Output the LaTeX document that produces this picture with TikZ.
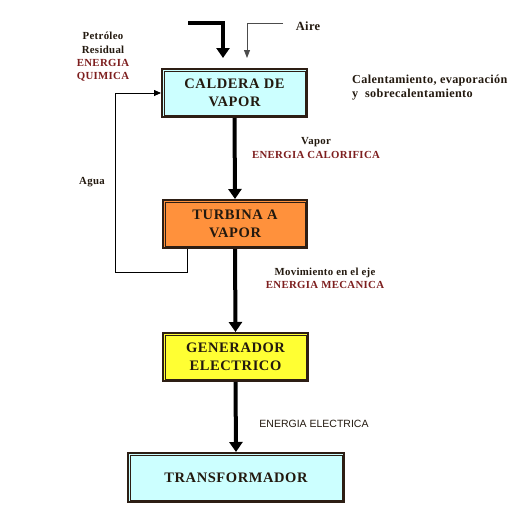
\documentclass[tikz,border=0pt]{standalone}
\usepackage{fontspec}
\setmainfont{Liberation Serif}
\setsansfont{Liberation Sans}
\newfontfamily\lsfont[LetterSpace=3]{Liberation Serif}
\newfontfamily\bxfont[LetterSpace=4]{Liberation Serif}
\usetikzlibrary{arrows.meta}
\definecolor{boxline}{RGB}{45,30,20}
\definecolor{boxtext}{RGB}{35,25,15}
\definecolor{cyanfill}{RGB}{204,255,255}
\definecolor{orangefill}{RGB}{255,145,60}
\definecolor{yellowfill}{RGB}{255,255,51}
\definecolor{energyred}{RGB}{125,30,30}
\tikzset{
  box/.style={draw=boxline, line width=2pt, inner sep=0pt, align=center,
    font=\bxfont\bfseries\fontsize{14.5}{18}\selectfont, text=boxtext},
  lbl/.style={inner sep=0pt, align=center, font=\lsfont\bfseries\fontsize{10.8}{13.3}\selectfont, text=boxtext},
  thickarrow/.style={line width=4pt, -{Triangle[width=13pt,length=10pt]}},
  thinarrow/.style={line width=0.8pt, -{Triangle[width=6pt,length=8pt]}},
  fbline/.style={line width=0.8pt, -{Triangle[width=6pt,length=7pt]}}
}
\begin{document}
\begin{tikzpicture}[x=1pt,y=-1pt]
\useasboundingbox (0,0) rectangle (527,517);
% boxes
\node[box, fill=cyanfill, minimum width=145pt, minimum height=48pt] (cal) at (234.5,93) {CALDERA DE\\VAPOR};
\node[box, fill=orangefill, minimum width=144pt, minimum height=48pt] (tur) at (235,224) {TURBINA A\\VAPOR};
\node[box, fill=yellowfill, minimum width=145pt, minimum height=48pt] (gen) at (235.5,357) {GENERADOR\\ELECTRICO};
\node[box, fill=cyanfill, minimum width=216pt, minimum height=49pt] (tra) at (236,477.5) {TRANSFORMADOR};
\foreach \n in {cal,tur,gen,tra}
  \draw[line width=0.6pt, boxline] ([shift={(2.8pt,2.8pt)}]\n.south west) rectangle ([shift={(-2.8pt,-2.8pt)}]\n.north east);
% main flow
\draw[thickarrow] (cal.south) -- (tur.north);
\draw[thickarrow] (tur.south) -- (gen.north);
\draw[thickarrow] (gen.south) -- (tra.north);
% inputs
\coordinate (fuel) at (188,23);
\coordinate (air) at (283,23);
\draw[thickarrow, shorten >=10pt] (fuel) -| ([xshift=-11.5pt]cal.north);
\draw[thinarrow, black!70, shorten >=10pt] (air) -| ([xshift=12.5pt]cal.north);
% feedback water
\coordinate (fbc) at (115,272);
\draw[fbline] ([xshift=-48pt]tur.south) |- (fbc) |- (cal.west);
% labels
\node[lbl] (pet) at (103,57) {Petróleo\\Residual\\\textcolor{energyred}{ENERGIA}\\\textcolor{energyred}{QUIMICA}};
\node[lbl, font=\lsfont\bfseries\fontsize{12.5}{14}\selectfont] (aire) at (308,26) {Aire};
\node[lbl, anchor=west, align=left, font=\lsfont\bfseries\fontsize{12.2}{14}\selectfont] (calent) at (352,88) {Calentamiento, evaporación\\y\ \ sobrecalentamiento};
\node[lbl] (vap) at (316,148) {Vapor\\\textcolor{energyred}{ENERGIA CALORIFICA}};
\node[lbl] (agua) at (92,182) {Agua};
\node[lbl] (mov) at (325,278) {Movimiento en el eje\\\textcolor{energyred}{ENERGIA MECANICA}};
\node[inner sep=0pt, font=\sffamily\fontsize{10.5}{12}\selectfont, text=boxtext] (elec) at (314,424) {ENERGIA ELECTRICA};
\end{tikzpicture}
\end{document}
